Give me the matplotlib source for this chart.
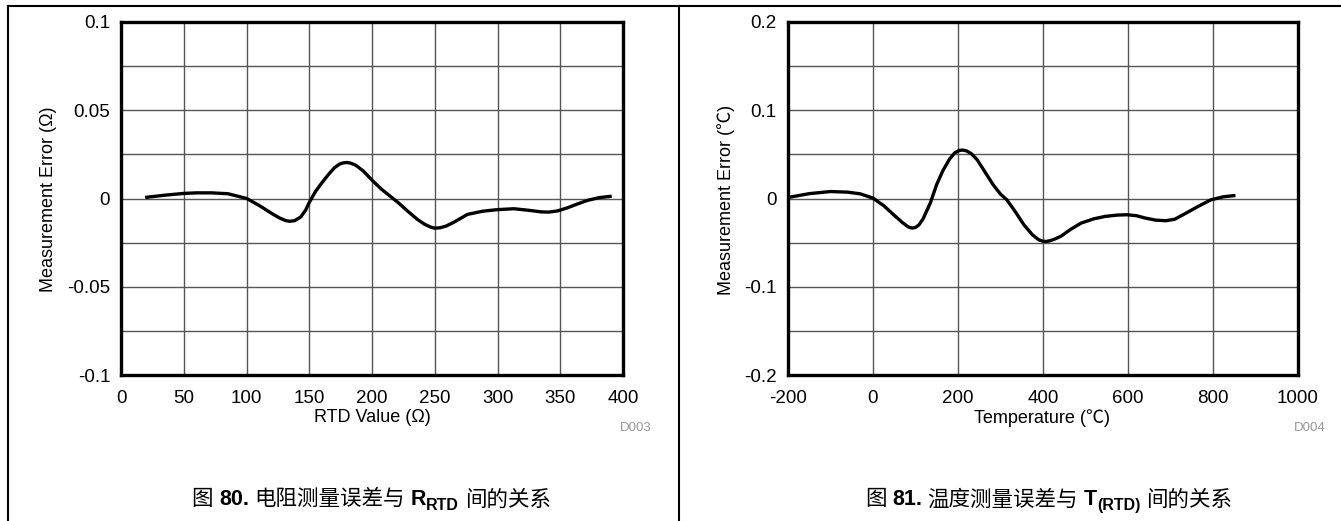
import matplotlib
matplotlib.use('Agg')
import matplotlib.pyplot as plt
from matplotlib.lines import Line2D

plt.rcParams['font.family'] = ['Liberation Sans', 'Noto Sans CJK SC', 'DejaVu Sans']

# Figure 80: resistance error vs RTD value
rtd_ohm = [19, 35, 50, 60, 72, 85, 100, 110, 120, 126, 131, 134, 138, 143, 147, 150, 155,
           160, 165, 170, 174, 177, 180, 183, 187, 193, 200, 207, 214, 221, 228, 236, 242,
           247, 250, 254, 259, 265, 276, 288, 300, 313, 325, 335, 341, 348, 356, 364,
           372, 381, 391]
err_ohm = [0.0006, 0.0019, 0.0029, 0.0032, 0.0032, 0.0027, 0.0, -0.0040, -0.0085, -0.0110,
           -0.0125, -0.0129, -0.0126, -0.0105, -0.0065, -0.0020, 0.0042, 0.0090, 0.0135,
           0.0175, 0.0195, 0.0202, 0.0204, 0.0200, 0.0188, 0.0155, 0.0103, 0.0055,
           0.0015, -0.0025, -0.0070, -0.0118, -0.0147, -0.0163, -0.0168, -0.0166,
           -0.0156, -0.0135, -0.0090, -0.0072, -0.0063, -0.0058, -0.0067, -0.0076,
           -0.0077, -0.0070, -0.0052, -0.0030, -0.0010, 0.0005, 0.0013]

# Figure 81: temperature error vs RTD temperature
temp_c = [-200, -150, -100, -60, -30, 0, 25, 50, 70, 83, 92, 100, 108, 118, 135, 150, 165,
          180, 192, 202, 211, 220, 232, 245, 265, 283, 300, 315, 335, 355, 375, 390, 400,
          406, 414, 425, 442, 465, 490, 520, 546, 575, 598, 620, 641, 665, 689, 710,
          737, 765, 795, 825, 853]
err_c = [0.0011, 0.0055, 0.0079, 0.0072, 0.0053, 0.0004, -0.0080, -0.0190, -0.0275,
         -0.0322, -0.0335, -0.0328, -0.0300, -0.0230, -0.0050, 0.0160, 0.0320, 0.0445,
         0.0515, 0.0543, 0.0549, 0.0540, 0.0505, 0.0440, 0.0290, 0.0154, 0.0050,
         -0.0015, -0.0150, -0.0297, -0.0410, -0.0468, -0.0484, -0.0487, -0.0482,
         -0.0465, -0.0429, -0.0350, -0.0278, -0.0230, -0.0203, -0.0188, -0.0184,
         -0.0195, -0.0222, -0.0245, -0.0252, -0.0235, -0.0165, -0.0090, -0.0015,
         0.0020, 0.0034]

fig = plt.figure(figsize=(13.41, 5.21), dpi=100)
renderer = fig.canvas.get_renderer()

# outer frame lines
for xy in [([0.006, 1.0], [0.9885, 0.9885]), ([0.006, 0.006], [0.0, 0.9885]),
           ([0.5063, 0.5063], [0.0, 0.9885])]:
    fig.add_artist(Line2D(xy[0], xy[1], color='black', lw=1.5, transform=fig.transFigure))


def caption(cx, y, pieces):
    """Place text pieces side by side, centred at cx (figure coords)"""
    W = fig.bbox.width
    H = fig.bbox.height
    texts = []
    total = 0
    for s, weight, size, dy, gap in pieces:
        t = fig.text(0, y + dy / H, s, ha='left', va='baseline', fontsize=size,
                     fontweight=weight)
        w = t.get_window_extent(renderer).width
        texts.append((t, total))
        total += w + gap
    x0 = cx * W - total / 2
    for t, off in texts:
        t.set_x((x0 + off) / W)


def draw_panel(rect, x, y, xlim, xticks, ylim, yticks, yminor, ytlabels, xlabel, ylabel,
               code, ylab_x, cx):
    ax = fig.add_axes(rect)
    ax.plot(x, y, color='black', lw=2.4, solid_joinstyle='round', solid_capstyle='butt')
    ax.set_xlim(xlim)
    ax.set_ylim(ylim)
    ax.set_xticks(xticks)
    ax.set_xticklabels([str(t) for t in xticks])
    ax.set_yticks(yticks)
    ax.set_yticklabels(ytlabels)
    ax.set_yticks(yminor, minor=True)
    ax.grid(True, which='both', color='#555555', lw=1.0)
    ax.set_axisbelow(True)
    ax.tick_params(which='both', length=0, labelsize=13.5, colors='black')
    ax.tick_params(axis='x', pad=11)
    ax.tick_params(axis='y', pad=8)
    for s in ax.spines.values():
        s.set_linewidth(2.4)
    fig.text(cx, 0.1977, xlabel, ha='center', va='center', fontsize=13)
    fig.text(ylab_x, 0.617, ylabel, ha='center', va='center', rotation=90, fontsize=13)
    fig.text(rect[0] + rect[2] + 0.021, 0.1785, code, ha='right', va='center',
             fontsize=9.5, color='#999999')
    return ax


draw_panel([0.0905, 0.2802, 0.3741, 0.6776], rtd_ohm, err_ohm, (0, 400),
           list(range(0, 401, 50)), (-0.1, 0.1), [-0.1, -0.05, 0, 0.05, 0.1],
           [-0.075, -0.025, 0.025, 0.075], ['-0.1', '-0.05', '0', '0.05', '0.1'],
           'RTD Value (Ω)', 'Measurement Error (Ω)', 'D003', 0.0358, 0.2774)

draw_panel([0.5876, 0.2802, 0.3803, 0.6776], temp_c, err_c, (-200, 1000),
           list(range(-200, 1001, 200)), (-0.2, 0.2), [-0.2, -0.1, 0, 0.1, 0.2],
           [-0.15, -0.05, 0.05, 0.15], ['-0.2', '-0.1', '0', '0.1', '0.2'],
           'Temperature (℃)', 'Measurement Error (℃)', 'D004', 0.5414, 0.777)

cap_y = 0.030
caption(0.2767, cap_y, [('图', 'normal', 15.5, 0, 6), ('80.', 'bold', 15.5, 0, 5),
                        ('电阻测量误差与', 'normal', 15.5, 0, 6), ('R', 'bold', 15.5, 0, 0),
                        ('RTD', 'bold', 11.5, -5, 6), ('间的关系', 'normal', 15.5, 0, 0)])
caption(0.7819, cap_y, [('图', 'normal', 15.5, 0, 6), ('81.', 'bold', 15.5, 0, 5),
                        ('温度测量误差与', 'normal', 15.5, 0, 6), ('T', 'bold', 15.5, 0, 0),
                        ('(RTD)', 'bold', 11.5, -5, 6), ('间的关系', 'normal', 15.5, 0, 0)])

fig.savefig('out.png', dpi=100)
